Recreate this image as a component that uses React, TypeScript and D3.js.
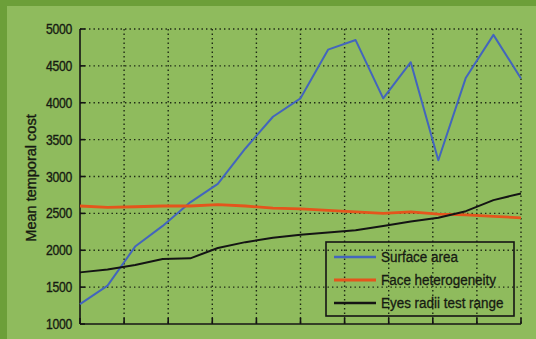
import React from "react";
import * as d3 from "d3";

// Mean temporal cost per test step, one value per point on the x axis
const surfaceArea = [1270, 1520, 2050, 2330, 2650, 2900, 3380, 3810, 4060, 4720, 4850, 4060, 4550, 3220, 4340, 4920, 4330];
const faceHeterogeneity = [2600, 2580, 2590, 2600, 2600, 2620, 2600, 2570, 2560, 2540, 2520, 2500, 2520, 2490, 2480, 2460, 2440];
const eyesRadii = [1700, 1740, 1800, 1880, 1890, 2030, 2110, 2170, 2210, 2240, 2270, 2330, 2390, 2440, 2530, 2680, 2770];

const yTicks = [1000, 1500, 2000, 2500, 3000, 3500, 4000, 4500, 5000];
const xGridTicks = [0, 1, 2, 3, 4, 5, 6, 7, 8, 9, 10];

const seriesNames = ["Surface area", "Face heterogeneity", "Eyes radii test range"];
const seriesColors = ["#4365bd", "#e4551c", "#141414"];
const seriesWidths = [2, 2.8, 2];

const W = 536;
const H = 339;
const plot = { left: 80, right: 521, top: 29, bottom: 324 };

export default function App() {
  const series = [surfaceArea, faceHeterogeneity, eyesRadii];
  const idx = surfaceArea.map((_, i) => i);

  const x = d3.scalePoint<number>().domain(idx).range([plot.left, plot.right]);
  const xGrid = d3.scaleLinear().domain([0, 10]).range([plot.left, plot.right]);
  const y = d3.scaleLinear().domain([1000, 5000]).range([plot.bottom, plot.top]);

  const line = d3
    .line<number>()
    .x((_, i) => x(i) as number)
    .y((v) => y(v));

  const font = "'Liberation Sans', Arial, Helvetica, sans-serif";
  const legend = { x: 326, y: 242, w: 188, h: 74 };
  const rowY = [257, 280, 303];
  const ink = "#161a12";

  return (
    <svg
      width={W}
      height={H}
      style={{ position: "absolute", left: 0, top: 0, display: "block" }}
    >
      <rect x={0} y={0} width={W} height={H} fill="#6c9f39" />
      <rect x={7} y={6} width={W - 7} height={H - 6} fill="#8fbb5d" />

      {/* dotted grid */}
      <g stroke="#1e2a14" strokeWidth={1.4} strokeDasharray="1.4 3.1" fill="none">
        {yTicks.slice(1).map((t) => (
          <line key={"gy" + t} x1={plot.left} x2={plot.right} y1={y(t)} y2={y(t)} />
        ))}
        {xGridTicks.slice(1).map((t) => (
          <line key={"gx" + t} x1={xGrid(t)} x2={xGrid(t)} y1={plot.top} y2={plot.bottom} />
        ))}
      </g>

      {/* axes with inward ticks */}
      <g stroke="#141414" strokeWidth={1.6} fill="none">
        <line x1={plot.left} x2={plot.left} y1={plot.top} y2={plot.bottom} />
        <line x1={plot.left} x2={plot.right} y1={plot.bottom} y2={plot.bottom} />
        {yTicks.map((t) => (
          <line key={"ty" + t} x1={plot.left} x2={plot.left + 5} y1={y(t)} y2={y(t)} />
        ))}
        {xGridTicks.map((t) => (
          <line key={"tx" + t} x1={xGrid(t)} x2={xGrid(t)} y1={plot.bottom} y2={plot.bottom - 6} />
        ))}
      </g>

      {/* y tick labels */}
      <g fontFamily={font} fontSize={14} fill={ink} stroke={ink} strokeWidth={0.35} textAnchor="end">
        {yTicks.map((t) => (
          <text
            key={"l" + t}
            transform={`translate(72,${y(t) + 5}) scale(0.87,1)`}
            style={{ letterSpacing: "-0.3px" }}
          >
            {t}
          </text>
        ))}
      </g>

      <text
        transform={`translate(36,178) rotate(-90)`}
        fontFamily={font}
        fontSize={14.5}
        fill={ink}
        stroke={ink}
        strokeWidth={0.35}
        textAnchor="middle"
      >
        Mean temporal cost
      </text>

      {/* data lines */}
      {series.map((s, k) => (
        <path
          key={seriesNames[k]}
          d={line(s) || ""}
          fill="none"
          stroke={seriesColors[k]}
          strokeWidth={seriesWidths[k]}
          strokeLinejoin="round"
        />
      ))}

      {/* legend */}
      <rect
        x={legend.x}
        y={legend.y}
        width={legend.w}
        height={legend.h}
        fill="none"
        stroke="#141414"
        strokeWidth={1.6}
      />
      {seriesNames.map((name, k) => (
        <g key={"lg" + k}>
          <line
            x1={334}
            x2={376}
            y1={rowY[k]}
            y2={rowY[k]}
            stroke={seriesColors[k]}
            strokeWidth={seriesWidths[k] + 0.4}
          />
          <text
            transform={`translate(381,${rowY[k] + 5}) scale(0.96,1)`}
            fontFamily={font}
            fontSize={14}
            fill={ink}
            stroke={ink}
            strokeWidth={0.3}
          >
            {name}
          </text>
        </g>
      ))}
    </svg>
  );
}
